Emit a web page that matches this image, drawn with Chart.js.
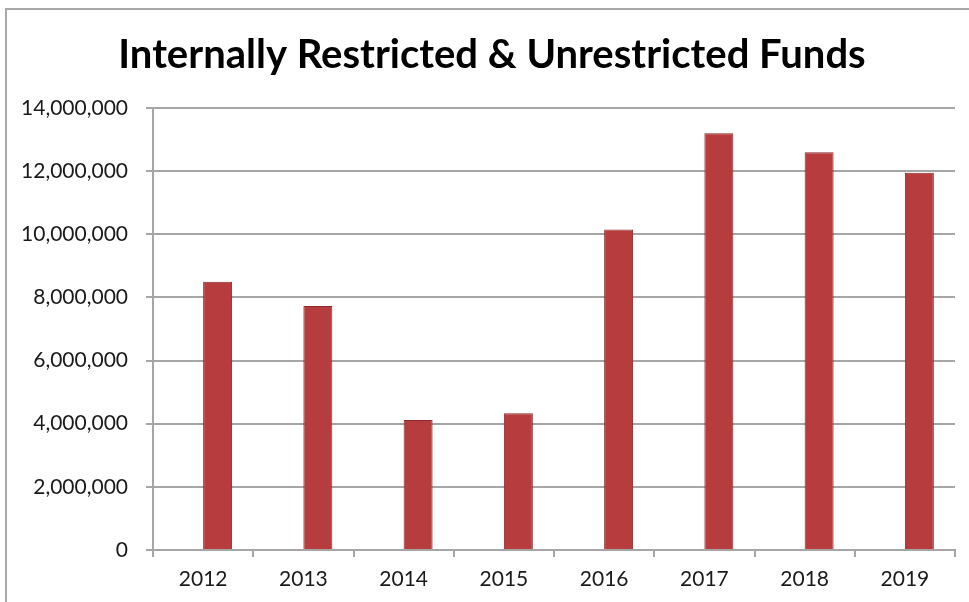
<!DOCTYPE html>
<html>
<head>
<meta charset="utf-8">
<script src="https://cdn.jsdelivr.net/npm/chart.js@4"></script>
<style>
  html, body { margin: 0; padding: 0; background: #ffffff; }
  #wrap { position: relative; width: 969px; height: 602px; }
  #frame { position: absolute; left: 5px; top: 8px; right: 0; bottom: 0;
           border-top: 2px solid #a9a9a9; border-left: 2px solid #a9a9a9; pointer-events: none; }
  canvas { display: block; }
</style>
</head>
<body>
<div id="wrap">
  <canvas id="c" width="969" height="602"></canvas>
  <div id="frame"></div>
</div>
<script>
// Fund balances at year end
const years = ['2012', '2013', '2014', '2015', '2016', '2017', '2018', '2019'];
const fundBalances = [8500000, 7730000, 4120000, 4330000, 10150000, 13200000, 12600000, 11950000];
// empty companion series that occupies the left half of each category slot
const emptySeries = [null, null, null, null, null, null, null, null];
const yTicks = [0, 2000000, 4000000, 6000000, 8000000, 10000000, 12000000, 14000000];

const FONT = 'Lato, "Open Sans", sans-serif';
const GRID = '#a6a6a6';

// centre the title a little to the right of the canvas middle
const titleShift = {
  id: 'titleShift',
  afterLayout(chart) {
    if (chart.titleBlock) chart.titleBlock.left = 29;
  }
};

new Chart(document.getElementById('c'), {
  type: 'bar',
  data: {
    labels: years,
    datasets: [
      { label: '', data: emptySeries, backgroundColor: 'rgba(0,0,0,0)' },
      {
        label: 'Internally Restricted & Unrestricted Funds',
        data: fundBalances,
        backgroundColor: '#b63c3d',
        borderColor: '#8c2a2e',
        borderWidth: 1
      }
    ]
  },
  plugins: [titleShift],
  options: {
    responsive: false,
    animation: false,
    devicePixelRatio: 1,
    categoryPercentage: 0.578,
    barPercentage: 1.0,
    layout: { padding: { left: 0, right: 14, top: 0, bottom: 0 } },
    plugins: {
      legend: { display: false },
      tooltip: { enabled: false },
      title: {
        display: true,
        text: 'Internally Restricted & Unrestricted Funds',
        color: '#000000',
        font: { family: FONT, size: 40, weight: 'bold' },
        padding: { top: 31, bottom: 29 }
      }
    },
    scales: {
      x: {
        afterFit: s => { s.height = 52; },
        grid: { display: true, drawOnChartArea: false, drawTicks: true, tickLength: 7,
                color: GRID, lineWidth: 2, offset: true },
        border: { display: true, color: GRID, width: 2 },
        ticks: { color: '#1a1a1a', font: { family: FONT, size: 21 }, padding: 10 }
      },
      y: {
        min: 0,
        max: 14000000,
        afterFit: s => { s.width = 153; },
        afterBuildTicks: s => { s.ticks = yTicks.map(v => ({ value: v })); },
        grid: { color: GRID, lineWidth: 2, drawTicks: true, tickLength: 7 },
        border: { display: true, color: GRID, width: 2 },
        ticks: {
          color: '#1a1a1a',
          font: { family: FONT, size: 21 },
          padding: 18,
          callback: v => v.toLocaleString('en-US')
        }
      }
    }
  }
});
</script>
</body>
</html>
